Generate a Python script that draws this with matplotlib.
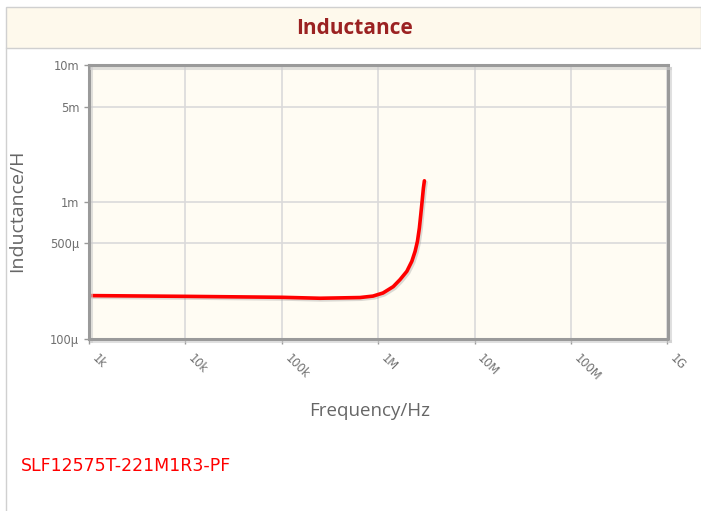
import numpy as np
import matplotlib.pyplot as plt
import matplotlib.patheffects as pe
import matplotlib.transforms as mtransforms
from matplotlib.patches import Rectangle
from matplotlib.lines import Line2D

# values
freq_hz = [1e3, 10.4e3, 100e3, 249e3, 647e3, 883e3, 1.12e6, 1.43e6, 1.68e6,
           1.98e6, 2.23e6, 2.41e6, 2.55e6, 2.67e6, 2.76e6, 2.85e6, 2.94e6, 3.01e6]
induct_h = [207.7e-6, 205e-6, 201.8e-6, 198.6e-6, 201e-6, 206e-6, 217e-6, 241.5e-6, 271.5e-6,
            312.6e-6, 370e-6, 437e-6, 518e-6, 648e-6, 811e-6, 1.014e-3, 1.27e-3, 1.435e-3]

x_ticks = [1e3, 1e4, 1e5, 1e6, 1e7, 1e8, 1e9]
x_labels = ['1k', '10k', '100k', '1M', '10M', '100M', '1G']
y_ticks = [1e-4, 5e-4, 1e-3, 5e-3, 1e-2]
y_labels = ['100µ', '500µ', '1m', '5m', '10m']
part_name = 'SLF12575T-221M1R3-PF'

W, H = 701, 511
fig = plt.figure(figsize=(W / 100, H / 100), dpi=100)
fig.patch.set_facecolor('white')

# header band
fig.patches.append(Rectangle((6 / W, 1 - 48 / H), 695 / W, 41 / H, transform=fig.transFigure,
                             facecolor='#fef9ec', edgecolor='#d0d0d0', lw=1))
fig.lines.append(Line2D([6 / W, 6 / W], [0, 1 - 48 / H], transform=fig.transFigure,
                        color='#d0d0d0', lw=1))
fig.text(354 / W, 1 - 29 / H, 'Inductance', ha='center', va='center',
         fontsize=15, fontweight='bold', color='#9b2222', family='Open Sans')

ax = fig.add_axes([89 / W, 1 - 339 / H, 578.5 / W, 273.5 / H])
ax.set_facecolor('#fffcf3')
ax.set_xscale('log')
ax.set_yscale('log')
ax.set_xlim(1e3, 1e9)
ax.set_ylim(1e-4, 1e-2)
ax.minorticks_off()

ax.set_xticks(x_ticks)
ax.set_xticklabels(x_labels, rotation=-45, ha='left', va='center', rotation_mode='anchor')
ax.set_yticks(y_ticks)
ax.set_yticklabels(y_labels)
ax.tick_params(axis='both', colors='#999999', labelcolor='#707070', labelsize=8.3,
               length=3.5, width=1)
ax.tick_params(axis='x', pad=9)
offset = mtransforms.ScaledTranslation(5 / 100, 0, fig.dpi_scale_trans)
for lbl in ax.get_xticklabels():
    lbl.set_transform(lbl.get_transform() + offset)

ax.grid(True, color='#dadada', lw=1.2)
ax.set_axisbelow(True)
for s in ax.spines.values():
    s.set_color('#9a9a9a')
    s.set_linewidth(2.2)
    s.set_path_effects([pe.SimpleLineShadow(offset=(1.5, -1.5), shadow_color='#cccccc', alpha=0.6),
                        pe.Normal()])

ax.plot(freq_hz, induct_h, color='#ff0000', lw=2.6, solid_capstyle='round',
        solid_joinstyle='round',
        path_effects=[pe.SimpleLineShadow(offset=(1.2, -1.2), shadow_color='#999999', alpha=0.35),
                      pe.Normal()])

fig.text(370 / W, 1 - 411 / H, 'Frequency/Hz', ha='center', va='center', fontsize=13.5,
         color='#666666', family='Open Sans')
fig.text(17 / W, 1 - 211 / H, 'Inductance/H', ha='center', va='center', fontsize=14,
         color='#666666', rotation=90, family='Open Sans')

fig.text(21 / W, 1 - 466 / H, part_name, ha='left', va='center', fontsize=12.5,
         color='#ff0000')

fig.savefig('out.png', dpi=100)
